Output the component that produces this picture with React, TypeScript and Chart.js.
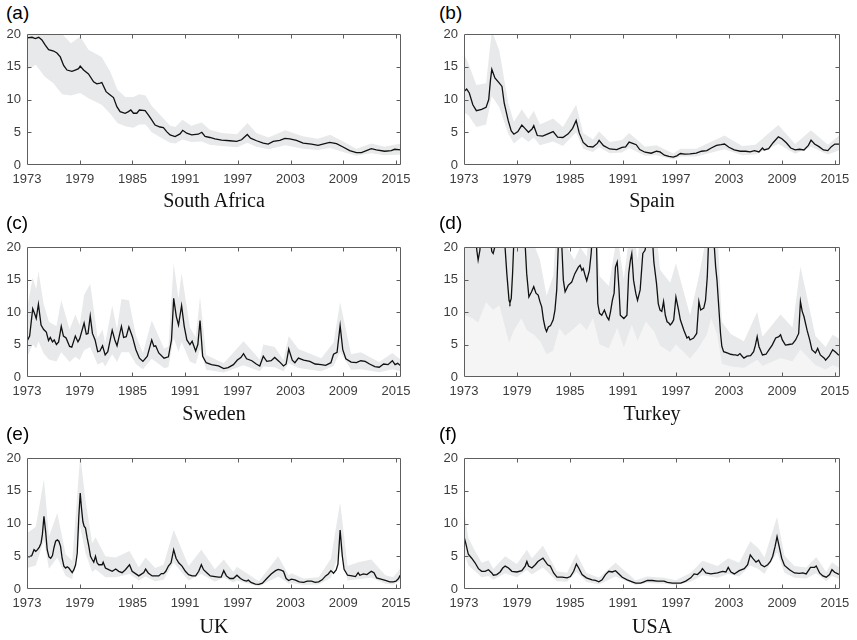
import React, { useEffect, useRef } from "react";
import { Chart, registerables } from "chart.js";

Chart.register(...registerables);

// ---------- axes ----------
const yearTicks = [1973, 1979, 1985, 1991, 1997, 2003, 2009, 2015];
const valueTicks = [0, 5, 10, 15, 20];
const xMin = 1973;
const xMax = 2015.58;
const yMin = 0;
const yMax = 20;

const panelLetters = ["(a)", "(b)", "(c)", "(d)", "(e)", "(f)"];
const countryNames = ["South Africa", "Spain", "Sweden", "Turkey", "UK", "USA"];

// ---------- data: [year, value] and bands [year, lower, upper] ----------
const southAfricaLine: [number, number][] = [
  [1973.0, 19.4], [1973.57, 19.5], [1973.95, 19.3], [1974.33, 19.5], [1974.7, 19.1], [1975.08, 18.3],
  [1975.46, 17.6], [1976.03, 17.4], [1976.41, 17.1], [1976.79, 16.5], [1977.17, 15.2], [1977.55, 14.5],
  [1978.11, 14.3], [1978.49, 14.5], [1978.87, 14.7], [1979.06, 15.1], [1979.44, 14.5], [1980.0, 13.9],
  [1980.58, 12.7], [1980.95, 12.4], [1981.33, 12.5], [1981.52, 12.6], [1982.0, 11.2], [1982.47, 10.7],
  [1982.85, 10.3], [1983.23, 8.9], [1983.6, 8.15], [1984.17, 7.9], [1984.55, 8.15], [1984.82, 8.4],
  [1985.12, 7.9], [1985.5, 7.9], [1985.8, 8.4], [1986.45, 8.3], [1986.83, 7.6], [1987.2, 6.9],
  [1987.58, 6.1], [1988.15, 5.8], [1988.53, 5.7], [1988.9, 5.1], [1989.29, 4.6], [1989.86, 4.35],
  [1990.42, 4.75], [1990.73, 5.3], [1991.18, 4.85], [1991.75, 4.6], [1992.5, 4.7], [1992.9, 5.0],
  [1993.27, 4.35], [1993.83, 4.2], [1994.4, 4.0], [1995.16, 3.8], [1996.1, 3.7], [1996.86, 3.6],
  [1997.43, 3.85], [1998.08, 4.65], [1998.45, 4.1], [1999.14, 3.7], [1999.9, 3.35], [2000.46, 3.2],
  [2001.03, 3.6], [2001.79, 3.75], [2002.36, 4.05], [2002.92, 4.0], [2003.68, 3.75], [2004.44, 3.35],
  [2005.39, 3.2], [2006.14, 3.0], [2006.9, 3.25], [2007.47, 3.45], [2008.23, 3.25], [2008.98, 2.75],
  [2009.74, 2.2], [2010.5, 1.9], [2011.07, 1.9], [2011.64, 2.2], [2012.2, 2.5], [2012.77, 2.3],
  [2013.72, 2.1], [2014.47, 2.2], [2014.85, 2.4], [2015.58, 2.3],
];
const southAfricaBand: [number, number, number][] = [
  [1973, 14.5, 24], [1974, 15.3, 24], [1975, 13.5, 22], [1976, 12.5, 21], [1977, 10.8, 20],
  [1978, 10.6, 18.6], [1979.06, 11.0, 19.6], [1980, 10.2, 17.6], [1981.5, 9.2, 16.5], [1982.5, 7.8, 14.2],
  [1983.3, 6.4, 11.5], [1984.2, 5.9, 10.4], [1985.1, 5.7, 10.4], [1985.8, 6.2, 10.8], [1986.5, 6.2, 10.6],
  [1987.2, 5.0, 9.0], [1988.2, 4.2, 7.6], [1989.3, 3.4, 6.0], [1989.9, 3.3, 5.8], [1990.7, 3.9, 6.9],
  [1991.7, 3.5, 6.0], [1992.9, 3.6, 6.5], [1993.8, 3.1, 5.4], [1995.2, 2.9, 4.9], [1996.9, 2.7, 4.7],
  [1998.1, 3.4, 6.4], [1999.1, 2.8, 4.9], [2000.5, 2.4, 4.2], [2002.4, 3.0, 5.3], [2004.4, 2.5, 4.4],
  [2006.1, 2.3, 4.0], [2007.5, 2.6, 4.6], [2009.0, 2.0, 3.6], [2010.5, 1.4, 2.5], [2012.2, 1.8, 3.3],
  [2013.7, 1.5, 2.8], [2015.58, 1.6, 3.3],
];

const spainLine: [number, number][] = [
  [1973.0, 11.2], [1973.3, 11.6], [1973.6, 11.0], [1974.0, 9.2], [1974.4, 8.3], [1975.0, 8.5],
  [1975.5, 8.8], [1975.8, 10.0], [1976.0, 13.0], [1976.15, 14.6], [1976.5, 13.3], [1977.0, 12.5],
  [1977.3, 12.0], [1977.55, 9.5], [1978.0, 6.8], [1978.35, 5.2], [1978.65, 4.7], [1979.1, 5.1],
  [1979.55, 6.1], [1979.9, 5.6], [1980.3, 5.0], [1980.7, 5.5], [1980.9, 6.0], [1981.3, 4.5],
  [1981.9, 4.4], [1982.5, 4.75], [1983.1, 5.1], [1983.6, 4.25], [1984.2, 4.2], [1984.8, 4.75],
  [1985.3, 5.6], [1985.7, 6.8], [1986.05, 4.9], [1986.5, 3.45], [1987.0, 2.85], [1987.6, 2.75],
  [1988.1, 3.3], [1988.3, 3.75], [1988.8, 2.95], [1989.5, 2.45], [1990.3, 2.35], [1990.9, 2.7],
  [1991.3, 2.75], [1991.7, 3.5], [1992.1, 3.3], [1992.5, 3.1], [1992.9, 2.35], [1993.5, 1.95],
  [1994.2, 1.8], [1994.8, 2.1], [1995.2, 2.0], [1995.7, 1.5], [1996.2, 1.3], [1996.7, 1.2],
  [1997.1, 1.4], [1997.5, 1.75], [1998.0, 1.65], [1998.6, 1.7], [1999.3, 1.8], [1999.9, 2.1],
  [2000.5, 2.2], [2001.0, 2.6], [2001.6, 3.0], [2002.1, 3.1], [2002.5, 3.2], [2003.0, 2.7],
  [2003.6, 2.3], [2004.3, 2.1], [2004.9, 2.1], [2005.4, 2.0], [2005.9, 2.2], [2006.4, 2.0],
  [2006.8, 2.6], [2007.0, 2.3], [2007.5, 2.5], [2008.0, 3.4], [2008.6, 4.3], [2009.0, 4.0],
  [2009.5, 3.4], [2010.0, 2.6], [2010.5, 2.3], [2011.0, 2.4], [2011.5, 2.3], [2012.0, 3.0],
  [2012.3, 3.8], [2012.7, 3.2], [2013.2, 2.8], [2013.7, 2.3], [2014.2, 2.2], [2014.6, 2.8],
  [2015.0, 3.2], [2015.58, 3.2],
];
const spainBand: [number, number, number][] = [
  [1973, 8.0, 17], [1973.5, 7.6, 15.5], [1974.4, 5.8, 12.2], [1975.5, 6.2, 12.5], [1976.15, 10.5, 20.5],
  [1977.0, 8.8, 17.5], [1977.5, 6.8, 13.5], [1978.0, 4.8, 9.5], [1978.65, 3.3, 6.6], [1979.55, 4.3, 8.5],
  [1980.3, 3.5, 7.0], [1980.9, 4.2, 8.3], [1981.6, 3.0, 6.2], [1983.1, 3.6, 7.1], [1984.2, 2.9, 5.8],
  [1985.7, 5.0, 9.2], [1986.5, 2.5, 4.9], [1987.6, 2.0, 3.9], [1988.3, 2.7, 5.1], [1989.5, 1.8, 3.5],
  [1990.9, 1.9, 3.8], [1991.7, 2.6, 4.9], [1993.5, 1.4, 2.8], [1994.8, 1.5, 3.0], [1996.7, 0.85, 1.75],
  [1997.5, 1.3, 2.5], [1999.3, 1.3, 2.5], [2002.5, 2.4, 4.5], [2004.5, 1.5, 2.9], [2006.0, 1.6, 3.1],
  [2008.6, 3.2, 6.1], [2010.5, 1.7, 3.2], [2012.3, 2.8, 5.3], [2014.2, 1.6, 3.1], [2015.58, 2.3, 4.6],
];

const swedenLine: [number, number][] = [
  [1973.0, 5.5], [1973.3, 6.3], [1973.65, 10.5], [1973.85, 9.8], [1974.05, 9.0], [1974.3, 11.2],
  [1974.6, 8.0], [1974.9, 7.3], [1975.2, 6.9], [1975.45, 5.6], [1975.65, 6.1], [1975.9, 5.4],
  [1976.1, 5.7], [1976.35, 5.0], [1976.6, 5.4], [1976.9, 7.8], [1977.15, 6.3], [1977.45, 6.0],
  [1977.85, 4.7], [1978.1, 4.6], [1978.5, 6.3], [1978.8, 5.4], [1979.0, 5.9], [1979.5, 8.3],
  [1979.75, 6.6], [1979.95, 6.7], [1980.2, 9.4], [1980.45, 6.7], [1980.75, 5.7], [1981.05, 3.9],
  [1981.3, 4.0], [1981.6, 4.8], [1981.9, 3.4], [1982.2, 3.9], [1982.7, 7.2], [1983.0, 5.7],
  [1983.25, 4.8], [1983.75, 7.8], [1984.0, 6.1], [1984.3, 6.2], [1984.6, 7.7], [1985.0, 6.2],
  [1985.4, 4.2], [1985.8, 2.9], [1986.2, 2.4], [1986.7, 3.2], [1987.2, 5.7], [1987.45, 4.7],
  [1987.65, 4.8], [1988.0, 3.7], [1988.6, 2.9], [1989.1, 3.1], [1989.45, 5.7], [1989.7, 12.1],
  [1990.0, 9.3], [1990.25, 8.0], [1990.6, 11.0], [1990.9, 7.8], [1991.2, 5.7], [1991.55, 5.0],
  [1991.8, 5.5], [1992.2, 4.0], [1992.45, 5.0], [1992.7, 8.7], [1993.0, 3.2], [1993.4, 2.2],
  [1994.0, 1.9], [1994.8, 1.7], [1995.4, 1.3], [1995.9, 1.45], [1996.5, 1.9], [1996.95, 2.6],
  [1997.35, 3.0], [1997.65, 3.6], [1998.0, 2.8], [1998.6, 2.5], [1999.1, 2.0], [1999.5, 1.7],
  [1999.9, 3.2], [2000.3, 2.4], [2000.8, 2.5], [2001.2, 3.0], [2001.7, 2.4], [2002.2, 1.7],
  [2002.5, 2.0], [2002.8, 4.3], [2003.2, 2.6], [2003.5, 2.2], [2003.9, 2.9], [2004.5, 2.6],
  [2005.2, 2.4], [2005.8, 2.0], [2006.5, 1.9], [2007.0, 1.8], [2007.6, 2.2], [2007.9, 3.5],
  [2008.3, 3.8], [2008.65, 7.9], [2008.95, 4.2], [2009.3, 2.8], [2009.9, 2.3], [2010.5, 2.2],
  [2011.0, 2.5], [2011.5, 2.4], [2012.0, 2.0], [2012.6, 1.6], [2013.1, 1.5], [2013.6, 2.0],
  [2014.1, 1.9], [2014.6, 2.5], [2014.9, 1.9], [2015.2, 2.1], [2015.58, 1.7],
];
const swedenBand: [number, number, number][] = [
  [1973, 3.0, 10.5], [1973.65, 5.0, 15.3], [1974.05, 4.4, 13.5], [1974.3, 5.5, 16.3], [1974.9, 3.6, 11.2],
  [1975.5, 2.7, 8.5], [1976.35, 2.4, 7.8], [1976.9, 3.8, 11.8], [1977.85, 2.3, 7.3], [1978.5, 3.1, 9.6],
  [1979.0, 2.6, 8.0], [1979.5, 4.1, 12.6], [1980.2, 4.6, 14.3], [1981.05, 1.9, 6.0], [1981.6, 2.3, 7.3],
  [1981.9, 1.6, 5.2], [1982.7, 3.5, 11.0], [1983.25, 2.3, 7.3], [1983.75, 3.8, 12.0], [1984.6, 3.8, 11.8],
  [1985.4, 2.0, 6.4], [1986.2, 1.2, 3.7], [1987.2, 2.8, 8.7], [1988.6, 1.4, 4.4], [1989.1, 1.5, 4.7],
  [1989.7, 6.0, 17.5], [1990.25, 3.9, 12.0], [1990.6, 5.4, 16.0], [1991.55, 2.4, 7.6], [1992.2, 2.0, 6.1],
  [1992.7, 4.3, 12.3], [1993.4, 1.1, 3.4], [1995.4, 0.7, 2.1], [1997.65, 1.8, 5.5], [1999.5, 0.9, 2.7],
  [1999.9, 1.6, 5.0], [2001.2, 1.5, 4.6], [2002.2, 0.9, 2.6], [2002.8, 2.1, 6.3], [2003.9, 1.4, 4.3],
  [2006.5, 0.9, 2.9], [2007.9, 1.7, 5.3], [2008.65, 3.9, 11.5], [2009.9, 1.1, 3.5], [2011.0, 1.2, 3.8],
  [2013.1, 0.75, 2.3], [2014.6, 1.2, 3.7], [2015.58, 0.85, 2.6],
];

const turkeyLine: [number, number][] = [
  [1973.0, 26], [1974.2, 24], [1974.45, 19.5], [1974.6, 18.0], [1974.8, 19.5], [1975.0, 24],
  [1975.6, 26], [1976.0, 21], [1976.15, 19.3], [1976.3, 19.0], [1976.45, 19.8], [1976.6, 23],
  [1977.3, 26], [1977.6, 21], [1977.85, 15.9], [1978.1, 11.8], [1978.2, 11.4], [1978.35, 12.1],
  [1978.5, 15.9], [1978.65, 21], [1979.3, 27], [1979.9, 21], [1980.1, 15.9], [1980.35, 12.3],
  [1980.65, 13.1], [1980.9, 13.9], [1981.15, 12.9], [1981.4, 12.6], [1981.6, 11.6], [1981.8, 10.8],
  [1982.0, 8.8], [1982.2, 7.5], [1982.35, 7.0], [1982.55, 7.7], [1982.8, 7.9], [1983.1, 8.8],
  [1983.3, 10.3], [1983.5, 13.4], [1983.7, 21], [1983.9, 25], [1984.05, 21], [1984.25, 14.9],
  [1984.45, 13.1], [1984.8, 14.1], [1985.2, 14.6], [1985.55, 15.9], [1985.95, 16.9], [1986.15, 17.2],
  [1986.35, 16.4], [1986.5, 16.7], [1986.7, 15.7], [1986.9, 14.8], [1987.2, 16.4], [1987.4, 19.0],
  [1987.5, 21], [1987.8, 24], [1988.0, 21], [1988.15, 11.3], [1988.35, 9.8], [1988.6, 9.5],
  [1988.9, 10.3], [1989.2, 9.2], [1989.4, 8.8], [1989.6, 10.1], [1989.8, 11.8], [1990.0, 12.9],
  [1990.15, 16.9], [1990.35, 17.7], [1990.55, 13.6], [1990.7, 9.5], [1991.1, 9.0], [1991.45, 9.5],
  [1991.65, 15.9], [1991.85, 18.0], [1992.0, 19.0], [1992.2, 14.9], [1992.45, 12.9], [1992.65, 11.8],
  [1992.95, 13.4], [1993.25, 19.0], [1993.5, 19.5], [1993.7, 21], [1994.0, 25], [1994.35, 21],
  [1994.5, 17.7], [1994.8, 14.4], [1995.0, 11.3], [1995.2, 10.3], [1995.4, 10.1], [1995.6, 11.6],
  [1995.8, 9.5], [1996.0, 8.5], [1996.2, 8.3], [1996.35, 8.0], [1996.55, 8.3], [1996.75, 8.8],
  [1997.0, 12.3], [1997.3, 10.3], [1997.5, 8.8], [1997.9, 7.2], [1998.25, 6.0], [1998.45, 6.2],
  [1998.6, 5.7], [1999.0, 6.0], [1999.35, 6.7], [1999.6, 11.6], [1999.8, 10.3], [2000.15, 10.6],
  [2000.35, 11.8], [2000.55, 15.4], [2000.7, 21], [2001.0, 26], [2001.3, 21], [2001.5, 16.9],
  [2001.65, 14.9], [2001.85, 10.8], [2002.05, 6.7], [2002.2, 4.7], [2002.4, 3.9], [2002.8, 3.7],
  [2003.2, 3.5], [2003.55, 3.4], [2003.75, 3.4], [2004.0, 3.3], [2004.25, 3.6], [2004.5, 3.2],
  [2004.7, 2.9], [2005.05, 3.2], [2005.45, 3.3], [2005.8, 3.9], [2006.0, 4.9], [2006.2, 6.2],
  [2006.4, 4.7], [2006.8, 3.4], [2007.2, 3.5], [2007.55, 4.2], [2007.9, 4.9], [2008.3, 6.0],
  [2008.65, 6.2], [2008.85, 6.5], [2009.05, 5.7], [2009.4, 4.9], [2009.8, 5.0], [2010.2, 5.1],
  [2010.55, 5.7], [2010.9, 6.7], [2011.1, 11.6], [2011.3, 10.1], [2011.5, 9.3], [2011.85, 7.2],
  [2012.15, 5.7], [2012.4, 4.2], [2012.8, 3.7], [2013.05, 4.4], [2013.35, 3.4], [2013.8, 2.9],
  [2013.95, 2.6], [2014.35, 3.2], [2014.75, 4.2], [2015.1, 3.8], [2015.4, 3.4], [2015.58, 3.4],
];
const turkeyBand: [number, number, number][] = [
  [1973.0, 9.5, 30], [1974.0, 9.0, 30], [1974.6, 8.3, 28], [1975.5, 11.5, 30], [1976.3, 10.3, 26],
  [1977.0, 11.0, 30], [1978.1, 5.2, 22], [1978.6, 7.0, 30], [1979.5, 9.0, 30], [1980.1, 7.2, 22],
  [1980.9, 6.5, 20.5], [1981.6, 5.5, 18], [1982.35, 3.5, 12.5], [1983.1, 4.0, 15.5], [1983.8, 7.5, 30],
  [1984.45, 6.3, 20.5], [1985.5, 7.5, 18], [1986.15, 8.3, 20], [1986.9, 7.2, 18.5], [1987.6, 9.0, 30],
  [1988.35, 5.0, 15.5], [1989.4, 4.4, 14.0], [1990.35, 7.5, 22], [1991.1, 4.5, 15], [1992.0, 8.0, 25],
  [1992.65, 5.5, 18], [1993.6, 8.5, 30], [1994.5, 7.0, 26], [1995.2, 4.8, 16.5], [1996.35, 3.8, 14.5],
  [1997.0, 5.0, 17.5], [1998.6, 2.8, 9.5], [1999.6, 4.5, 15.5], [2000.5, 6.5, 22], [2001.0, 9.0, 30],
  [2001.65, 6.5, 24], [2002.2, 2.0, 8.5], [2003.2, 1.6, 6.6], [2004.7, 1.4, 5.5], [2006.2, 2.6, 10.0],
  [2006.8, 1.7, 6.2], [2008.85, 2.9, 9.6], [2010.2, 2.4, 7.6], [2011.1, 4.2, 17.0], [2012.8, 1.8, 6.3],
  [2013.95, 1.1, 4.6], [2014.75, 1.8, 6.5], [2015.58, 1.4, 5.8],
];

const ukLine: [number, number][] = [
  [1973.0, 5.0], [1973.25, 4.9], [1973.55, 5.1], [1973.8, 6.0], [1974.0, 5.75], [1974.2, 6.0],
  [1974.4, 6.4], [1974.6, 7.0], [1974.75, 8.3], [1974.93, 11.1], [1975.12, 8.8], [1975.3, 6.0],
  [1975.5, 4.9], [1975.7, 4.7], [1975.9, 5.1], [1976.07, 6.3], [1976.26, 7.3], [1976.45, 7.5],
  [1976.63, 7.3], [1976.82, 6.5], [1977.0, 4.7], [1977.2, 3.5], [1977.4, 3.2], [1977.58, 3.4],
  [1977.77, 3.2], [1977.96, 2.85], [1978.15, 2.5], [1978.34, 2.95], [1978.53, 3.7], [1978.72, 5.5],
  [1978.9, 11.1], [1979.06, 14.65], [1979.2, 12.4], [1979.36, 10.3], [1979.5, 9.6], [1979.66, 9.3],
  [1979.85, 7.8], [1980.04, 6.5], [1980.23, 5.0], [1980.42, 4.5], [1980.6, 4.1], [1980.8, 5.0],
  [1980.98, 4.0], [1981.17, 3.7], [1981.55, 3.7], [1981.67, 4.1], [1981.93, 3.2], [1982.3, 2.95],
  [1982.7, 2.7], [1983.1, 3.05], [1983.45, 2.7], [1983.83, 2.5], [1984.2, 2.95], [1984.67, 3.7],
  [1984.97, 2.7], [1985.35, 2.35], [1985.73, 2.0], [1986.3, 2.5], [1986.5, 3.05], [1986.8, 2.45],
  [1987.25, 2.0], [1987.6, 2.0], [1988.0, 2.0], [1988.3, 2.35], [1988.55, 2.35], [1988.8, 2.7],
  [1989.1, 3.5], [1989.4, 4.0], [1989.7, 6.0], [1989.97, 4.7], [1990.27, 4.0], [1990.65, 3.5],
  [1991.03, 2.7], [1991.4, 2.2], [1991.8, 2.0], [1992.2, 2.0], [1992.55, 2.7], [1992.85, 3.7],
  [1993.1, 2.95], [1993.5, 2.45], [1993.87, 2.0], [1994.4, 1.9], [1994.8, 1.8], [1995.1, 1.8],
  [1995.4, 2.8], [1995.7, 2.0], [1996.1, 1.6], [1996.5, 1.6], [1996.9, 2.1], [1997.3, 1.6],
  [1997.7, 1.3], [1998.0, 1.2], [1998.2, 1.35], [1998.5, 1.0], [1999.0, 0.75], [1999.4, 0.7],
  [1999.8, 0.9], [2000.3, 1.6], [2000.8, 2.3], [2001.3, 2.8], [2001.6, 3.0], [2001.9, 2.9],
  [2002.2, 2.7], [2002.5, 1.6], [2002.8, 1.3], [2003.1, 1.5], [2003.5, 1.4], [2004.0, 1.1],
  [2004.5, 1.0], [2004.9, 1.2], [2005.4, 1.2], [2005.8, 1.0], [2006.2, 1.1], [2006.6, 1.4],
  [2007.0, 2.0], [2007.3, 2.3], [2007.6, 2.8], [2007.9, 2.4], [2008.2, 2.9], [2008.4, 3.8],
  [2008.65, 9.0], [2008.9, 5.0], [2009.1, 3.0], [2009.5, 2.1], [2010.0, 2.0], [2010.4, 1.9],
  [2010.7, 2.5], [2010.9, 2.1], [2011.3, 2.3], [2011.7, 2.2], [2012.2, 2.7], [2012.5, 2.5],
  [2012.8, 1.7], [2013.3, 1.5], [2013.8, 1.3], [2014.3, 1.1], [2014.7, 1.1], [2015.0, 1.2],
  [2015.3, 1.6], [2015.45, 2.0], [2015.58, 1.9],
];
const ukBand: [number, number, number][] = [
  [1973.0, 3.2, 8.5], [1974.0, 3.6, 9.5], [1974.93, 7.5, 16.8], [1975.5, 3.1, 8.0], [1976.45, 4.8, 11.6],
  [1977.4, 2.0, 5.3], [1978.15, 1.5, 4.3], [1979.06, 9.5, 20.5], [1979.66, 5.5, 13.5], [1980.42, 2.6, 7.0],
  [1980.8, 3.0, 7.9], [1981.93, 1.8, 5.0], [1983.1, 1.8, 4.8], [1984.67, 2.3, 5.8], [1985.73, 1.3, 3.3],
  [1986.5, 1.9, 4.8], [1987.6, 1.2, 3.2], [1988.55, 1.4, 3.7], [1989.7, 4.0, 9.0], [1991.4, 1.3, 3.5],
  [1992.85, 2.3, 6.0], [1994.4, 1.1, 3.0], [1995.4, 1.7, 4.5], [1996.5, 1.0, 2.6], [1996.9, 1.3, 3.4],
  [1999.4, 0.4, 1.2], [2001.6, 1.9, 5.0], [2002.8, 0.8, 2.1], [2003.1, 0.9, 2.4], [2004.5, 0.6, 1.6],
  [2006.2, 0.7, 1.8], [2007.6, 1.7, 4.6], [2008.65, 6.0, 13.2], [2009.5, 1.3, 3.5], [2010.7, 1.5, 4.1],
  [2012.2, 1.7, 4.5], [2013.8, 0.8, 2.1], [2014.7, 0.7, 1.8], [2015.58, 1.3, 3.3],
];

const usaLine: [number, number][] = [
  [1973.0, 8.0], [1973.23, 6.8], [1973.49, 5.3], [1973.87, 4.7], [1974.25, 4.0], [1974.63, 3.1],
  [1975.0, 2.7], [1975.39, 2.7], [1975.77, 2.95], [1976.14, 2.45], [1976.33, 2.1], [1976.71, 2.2],
  [1977.09, 2.6], [1977.39, 3.2], [1977.66, 3.5], [1978.04, 3.2], [1978.42, 2.7], [1978.98, 2.6],
  [1979.55, 2.8], [1979.93, 3.5], [1980.12, 4.2], [1980.31, 3.5], [1980.69, 3.2], [1981.07, 3.7],
  [1981.37, 4.2], [1981.71, 4.5], [1981.94, 4.7], [1982.2, 4.2], [1982.47, 3.7], [1982.77, 3.5],
  [1983.15, 2.45], [1983.53, 1.8], [1984.1, 1.8], [1984.67, 1.7], [1985.05, 1.9], [1985.42, 2.7],
  [1985.73, 3.8], [1985.99, 3.2], [1986.37, 2.2], [1986.86, 1.7], [1987.5, 1.4], [1987.89, 1.3],
  [1988.27, 1.1], [1988.64, 1.4], [1989.02, 2.2], [1989.4, 2.7], [1989.78, 2.6], [1990.16, 2.8],
  [1990.54, 2.3], [1990.92, 1.8], [1991.48, 1.4], [1992.05, 1.1], [1992.43, 0.9], [1993.0, 0.9],
  [1993.38, 1.1], [1993.76, 1.3], [1994.33, 1.3], [1994.89, 1.2], [1995.65, 1.2], [1996.03, 1.0],
  [1996.6, 0.9], [1997.55, 0.9], [1998.11, 1.2], [1998.68, 1.7], [1999.06, 2.3], [1999.44, 2.2],
  [1999.82, 2.7], [2000.0, 3.1], [2000.39, 2.45], [2000.95, 2.3], [2001.71, 2.45], [2002.28, 2.7],
  [2002.66, 2.6], [2002.92, 3.3], [2003.23, 2.6], [2003.61, 2.3], [2004.17, 2.8], [2004.74, 3.1],
  [2005.12, 3.7], [2005.42, 5.2], [2005.69, 4.7], [2006.07, 4.1], [2006.37, 4.4], [2006.64, 3.7],
  [2007.02, 3.4], [2007.39, 3.7], [2007.7, 4.2], [2007.96, 5.0], [2008.23, 6.5], [2008.45, 8.0],
  [2008.72, 6.3], [2008.98, 4.7], [2009.29, 3.6], [2009.86, 2.95], [2010.42, 2.45], [2010.99, 2.4],
  [2011.37, 2.45], [2011.75, 2.3], [2012.24, 3.3], [2012.7, 3.3], [2012.89, 3.5], [2013.27, 2.45],
  [2013.64, 2.0], [2014.02, 1.8], [2014.4, 2.2], [2014.67, 2.95], [2014.97, 2.55], [2015.35, 2.3],
  [2015.58, 2.2],
];
const usaBand: [number, number, number][] = [
  [1973.0, 5.5, 12.0], [1973.5, 3.6, 7.8], [1974.25, 2.7, 5.8], [1975.0, 1.8, 4.0], [1975.77, 2.0, 4.4],
  [1976.33, 1.4, 3.1], [1977.66, 2.4, 5.0], [1978.98, 1.8, 3.8], [1980.12, 2.9, 6.0], [1980.69, 2.2, 4.7],
  [1981.94, 3.3, 6.6], [1983.53, 1.2, 2.7], [1984.67, 1.1, 2.5], [1985.73, 2.6, 5.4], [1986.86, 1.1, 2.5],
  [1988.27, 0.7, 1.7], [1990.16, 1.9, 4.0], [1992.43, 0.6, 1.35], [1993.76, 0.9, 1.9], [1995.65, 0.8, 1.7],
  [1997.0, 0.6, 1.35], [1998.68, 1.1, 2.5], [2000.0, 2.1, 4.3], [2001.71, 1.7, 3.5], [2002.92, 2.3, 4.7],
  [2004.17, 1.9, 4.0], [2005.42, 3.6, 7.3], [2006.37, 3.0, 6.2], [2007.02, 2.3, 4.8], [2008.45, 5.6, 11.0],
  [2009.29, 2.5, 5.1], [2010.42, 1.7, 3.5], [2011.75, 1.6, 3.3], [2012.89, 2.4, 4.9], [2014.02, 1.2, 2.6],
  [2014.67, 2.0, 4.1], [2015.58, 1.5, 3.2],
];

// ---------- layout ----------
const colLeft = [27, 464];
const colRight = [401, 840];
const rowTop = [34, 247, 458];
const rowBottom = [165, 377, 589];
const letterTop = [3, 213, 424];
const letterLeft = [6, 439];
const titleTop = [190, 403, 616];

const AX_W = 27;
const AX_H = 25;
const PAD_T = 10;
const PAD_R = 20;

const BAND_COLOR = "#e8e9ea";
const LIGHT_COLOR = "#f5f5f5";
const LINE_COLOR = "#111111";
const BOX_COLOR = "#5e5e5e";
const TICK_TEXT = "#3c3c3c";
const SANS = '"Liberation Sans", Arial, Helvetica, sans-serif';
const SERIF = '"Liberation Serif", "Times New Roman", serif';

const boxPlugin = {
  id: "matlabBox",
  afterDatasetsDraw(chart: any) {
    const { ctx, chartArea: a, scales } = chart;
    const l = Math.round(a.left) + 0.5;
    const r = Math.round(a.right) - 0.5;
    const t = Math.round(a.top) + 0.5;
    const b = Math.round(a.bottom) - 0.5;
    ctx.save();
    ctx.strokeStyle = BOX_COLOR;
    ctx.lineWidth = 1;
    ctx.beginPath();
    ctx.rect(l, t, r - l, b - t);
    for (const v of yearTicks) {
      const x = Math.round(scales.x.getPixelForValue(v)) + 0.5;
      if (x <= l + 1 || x >= r - 1) continue;
      ctx.moveTo(x, b);
      ctx.lineTo(x, b - 4);
      ctx.moveTo(x, t);
      ctx.lineTo(x, t + 4);
    }
    for (const v of valueTicks) {
      const y = Math.round(scales.y.getPixelForValue(v)) + 0.5;
      if (y <= t + 1 || y >= b - 1) continue;
      ctx.moveTo(l, y);
      ctx.lineTo(l + 4, y);
      ctx.moveTo(r, y);
      ctx.lineTo(r - 4, y);
    }
    ctx.stroke();
    ctx.restore();
  },
};

type PanelProps = {
  index: number;
  line: [number, number][];
  band: [number, number, number][];
  shadeBelow?: boolean;
};

function Panel({ index, line, band, shadeBelow }: PanelProps) {
  const ref = useRef<HTMLCanvasElement>(null);
  const col = index % 2;
  const row = Math.floor(index / 2);
  const L = colLeft[col];
  const R = colRight[col];
  const T = rowTop[row];
  const B = rowBottom[row];
  const cw = R - L + AX_W + PAD_R;
  const ch = B - T + PAD_T + AX_H;

  useEffect(() => {
    const canvas = ref.current;
    if (!canvas) return;
    const chart = new Chart(canvas, {
      type: "line",
      data: {
        datasets: [
          {
            data: line.map(([x, y]) => ({ x, y })),
            borderColor: LINE_COLOR,
            borderWidth: 1.3,
            pointRadius: 0,
            fill: false,
            tension: 0,
          },
          {
            data: band.map(([x, , hi]) => ({ x, y: hi })),
            borderColor: "rgba(0,0,0,0)",
            borderWidth: 0,
            backgroundColor: BAND_COLOR,
            pointRadius: 0,
            fill: "+1",
            tension: 0,
          },
          {
            data: band.map(([x, lo]) => ({ x, y: lo })),
            borderColor: "rgba(0,0,0,0)",
            borderWidth: 0,
            backgroundColor: LIGHT_COLOR,
            pointRadius: 0,
            fill: shadeBelow ? "origin" : false,
            tension: 0,
          },
        ],
      },
      options: {
        animation: false,
        responsive: false,
        maintainAspectRatio: false,
        events: [],
        layout: { padding: { top: PAD_T, right: PAD_R, left: 0, bottom: 0 } },
        plugins: {
          legend: { display: false },
          tooltip: { enabled: false },
        },
        scales: {
          x: {
            type: "linear",
            min: xMin,
            max: xMax,
            grid: { display: false, drawTicks: false },
            border: { display: false },
            ticks: {
              autoSkip: false,
              maxRotation: 0,
              padding: 7,
              color: TICK_TEXT,
              font: { family: SANS, size: 13 },
              callback: (v: any) => String(v),
            },
            afterBuildTicks: (s: any) => {
              s.ticks = yearTicks.map((v) => ({ value: v }));
            },
            afterFit: (s: any) => {
              s.height = AX_H;
              s.paddingLeft = 0;
              s.paddingRight = 0;
            },
          },
          y: {
            type: "linear",
            min: yMin,
            max: yMax,
            grid: { display: false, drawTicks: false },
            border: { display: false },
            ticks: {
              autoSkip: false,
              padding: 6,
              color: TICK_TEXT,
              font: { family: SANS, size: 13 },
              callback: (v: any) => String(v),
            },
            afterBuildTicks: (s: any) => {
              s.ticks = valueTicks.map((v) => ({ value: v }));
            },
            afterFit: (s: any) => {
              s.width = AX_W;
              s.paddingTop = 0;
              s.paddingBottom = 0;
            },
          },
        },
      } as any,
      plugins: [boxPlugin],
    });
    return () => chart.destroy();
  }, []);

  return (
    <>
      <div
        style={{
          position: "absolute",
          left: letterLeft[col],
          top: letterTop[row],
          font: `19px ${SANS}`,
          lineHeight: "19px",
          color: "#000",
          whiteSpace: "nowrap",
        }}
      >
        {panelLetters[index]}
      </div>
      <canvas
        ref={ref}
        width={cw}
        height={ch}
        style={{
          position: "absolute",
          left: L - AX_W,
          top: T - PAD_T,
          width: cw,
          height: ch,
        }}
      />
      <div
        style={{
          position: "absolute",
          left: L,
          width: R - L,
          top: titleTop[row],
          textAlign: "center",
          font: `20px ${SERIF}`,
          lineHeight: "20px",
          color: "#111",
          whiteSpace: "nowrap",
        }}
      >
        {countryNames[index]}
      </div>
    </>
  );
}

export default function App() {
  return (
    <div
      style={{
        position: "absolute",
        left: 0,
        top: 0,
        width: 857,
        height: 640,
        background: "#ffffff",
        overflow: "hidden",
      }}
    >
      <Panel index={0} line={southAfricaLine} band={southAfricaBand} />
      <Panel index={1} line={spainLine} band={spainBand} />
      <Panel index={2} line={swedenLine} band={swedenBand} />
      <Panel index={3} line={turkeyLine} band={turkeyBand} shadeBelow />
      <Panel index={4} line={ukLine} band={ukBand} />
      <Panel index={5} line={usaLine} band={usaBand} />
    </div>
  );
}
